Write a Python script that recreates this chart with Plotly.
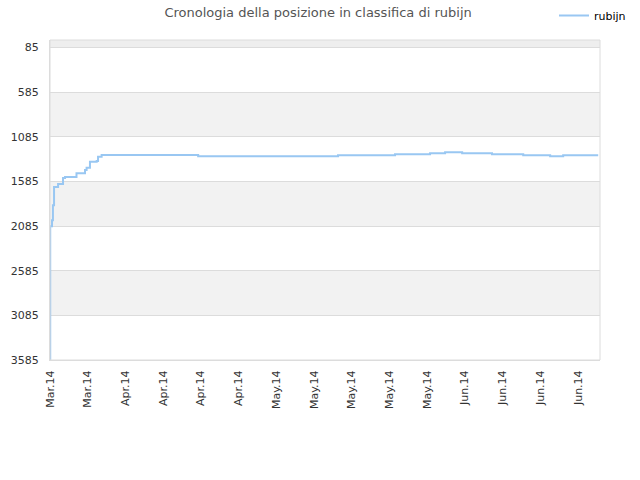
import plotly.graph_objects as go

# Data (step line of rank over time)
dates = [
    "2014-03-21 00:00", "2014-03-21 01:00", "2014-03-21 09:00", "2014-03-21 13:00",
    "2014-03-21 18:00", "2014-03-22 12:00", "2014-03-23 10:00", "2014-03-23 19:00",
    "2014-03-25 22:00", "2014-03-27 12:00", "2014-03-27 19:00", "2014-03-28 10:00",
    "2014-03-29 16:00", "2014-03-29 22:00", "2014-03-30 14:00", "2014-04-17 12:00",
    "2014-05-13 11:00", "2014-05-24 01:00", "2014-05-30 13:00", "2014-06-02 08:00",
    "2014-06-05 12:00", "2014-06-11 01:00", "2014-06-16 20:00", "2014-06-21 20:00",
    "2014-06-24 06:00", "2014-06-30 18:00",
]
ranks = [
    3585, 2086, 2018, 1850,
    1647, 1614, 1546, 1535,
    1493, 1456, 1430, 1363,
    1355, 1307, 1288, 1301,
    1290, 1279, 1268, 1257,
    1268, 1279, 1290, 1301,
    1290, 1290,
]
y_ticks = [85, 585, 1085, 1585, 2085, 2585, 3085, 3585]
x_tick_start = "2014-03-21"
x_range = ["2014-03-21 00:00", "2014-07-01 02:00"]
y_range = [3585, 0]
series_name = "rubijn"
title_text = "Cronologia della posizione in classifica di rubijn"

fig = go.Figure()
fig.add_trace(go.Scatter(
    x=dates, y=ranks, mode="lines", name=series_name,
    line=dict(color="#99c7f2", width=2, shape="hv"),
))

# alternating background bands between y ticks
band_edges = [y_range[1]] + y_ticks
shapes = []
for i in range(len(band_edges) - 1):
    if i % 2 == 0:
        shapes.append(dict(
            type="rect", xref="paper", yref="y", x0=0, x1=1,
            y0=band_edges[i], y1=band_edges[i + 1],
            fillcolor="#eeeeee" if i == 0 else "#f2f2f2",
            line=dict(width=0), layer="below",
        ))
# plot border
shapes.append(dict(type="rect", xref="paper", yref="paper", x0=0, x1=1, y0=0, y1=1,
                   line=dict(color="#dcdcdc", width=1), fillcolor="rgba(0,0,0,0)"))

fig.update_layout(
    width=640, height=480,
    margin=dict(l=50, r=40, t=40, b=120, autoexpand=False),
    paper_bgcolor="white", plot_bgcolor="white",
    font=dict(family="DejaVu Sans", size=11, color="#333333"),
    title=dict(text=title_text, x=0.497, xanchor="center", xref="container",
               y=1 - 12 / 480, yref="container", yanchor="middle",
               font=dict(size=13, color="#555555")),
    showlegend=True,
    legend=dict(x=1 - 9 / 640, xref="container", xanchor="right",
                y=1 - 1 / 480, yref="container", yanchor="top",
                font=dict(size=11, color="#000000"),
                bgcolor="rgba(0,0,0,0)", itemwidth=30),
    shapes=shapes,
    xaxis=dict(
        type="date", range=x_range, tick0=x_tick_start, dtick=7 * 86400000,
        tickformat="%b.%y", tickangle=-90, showgrid=False, zeroline=False,
        showline=True, linecolor="#dcdcdc", ticks="", ticklabelstandoff=5,
        tickfont=dict(size=11, color="#333333"),
    ),
    yaxis=dict(
        range=y_range, tickvals=y_ticks, ticktext=[str(v) for v in y_ticks],
        showgrid=True, gridcolor="#dcdcdc", gridwidth=1, zeroline=False,
        showline=True, linecolor="#dcdcdc", ticks="", ticklabelstandoff=8,
        tickfont=dict(size=11, color="#333333"),
    ),
)

fig.write_html("out.html", config={"displayModeBar": False},
               post_script="document.body.style.margin='0';")
